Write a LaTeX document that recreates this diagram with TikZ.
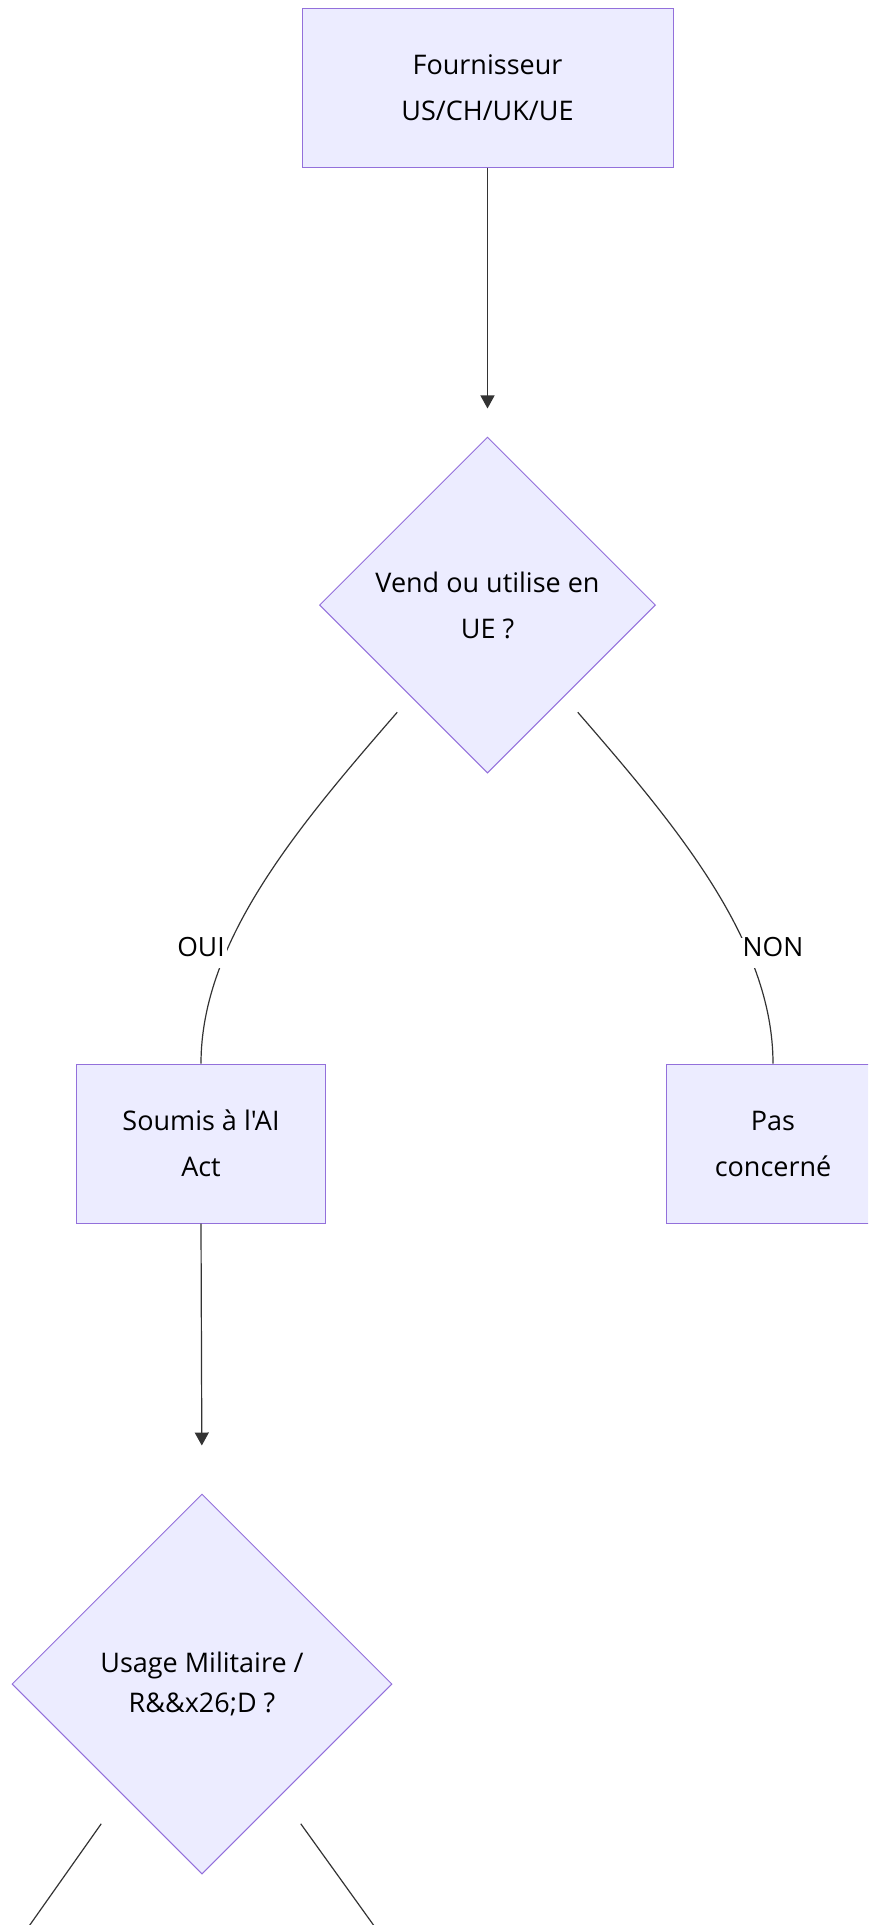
\documentclass[tikz,border=0pt]{standalone}
\usepackage{fontspec}
\setmainfont{Open Sans}[Ligatures=TeXOff]
\usepackage{tikz}
\usetikzlibrary{shapes.geometric}
\usetikzlibrary{positioning}
\usetikzlibrary{arrows.meta}
\definecolor{nodefill}{HTML}{ECECFF}
\definecolor{nodeline}{HTML}{9370DB}
\definecolor{edgeline}{HTML}{333333}

\begin{document}
\begin{tikzpicture}[x=1pt,y=-1pt,>={Triangle[length=13pt,width=14pt]},
	box node/.style={rectangle,draw=nodeline,fill=nodefill,line width=1pt,
		minimum height=159pt,inner sep=0pt,align=center,text=black,
		font=\fontsize{27}{46}\selectfont},
	choice node/.style={diamond,draw=nodeline,fill=nodefill,line width=1pt,
		inner sep=0pt,align=center,text=black,font=\fontsize{27}{46}\selectfont},
	label node/.style={fill=white,inner xsep=2pt,inner ysep=0pt,text height=18pt,
		text depth=12pt,text=black,font=\fontsize{26.5}{30}\selectfont},
	flow/.style={draw=edgeline,line width=1.2pt}]
	
	\useasboundingbox (0,0) rectangle (868,1925);
	\clip (0,0) rectangle (868,1925);
	
	\node[box node,minimum width=371pt] (four) at (487.5,87.5) {Fournisseur\\US/CH/UK/UE};
	\node[choice node,minimum width=336pt,minimum height=336pt] (vend) [below=269pt of four] {Vend ou utilise en\\UE ?};
	\node[box node,minimum width=249pt] (soumis) [below=290pt of vend.south,xshift=-286.5pt] {Soumis à l'AI\\Act};
	\node[box node,minimum width=213pt] (pas) [below=290pt of vend.south,xshift=285.5pt] {Pas\\concerné};
	\node[choice node,minimum width=380pt,minimum height=380pt,font=\fontsize{27}{40}\selectfont] (milit) [below=270pt of soumis,xshift=1pt] {Usage Militaire /\\R\&\&x26;D ?};
	
	\coordinate (leftexit) at (-9,1980);
	\coordinate (rightexit) at (413,1980);
	
	\draw[flow,->,shorten >=28pt] (four) -- (vend);
	\draw[flow,->,shorten >=48pt] (soumis.south) -- (milit.north);
	\draw[flow] ([shift={(-6,23)}]vend.south west) .. controls +(-98,113) and ([shift={(0,-123)}]soumis.north) .. (soumis.north);
	\draw[flow] ([shift={(6,23)}]vend.south east) .. controls +(98,113) and ([shift={(0,-123)}]pas.north) .. (pas.north);
	\draw[flow] ([shift={(-5.5,44.5)}]milit.south west) -- (leftexit);
	\draw[flow] ([shift={(3.5,44.5)}]milit.south east) -- (rightexit);
	
	\node[label node] (oui) [above=95pt of soumis] {OUI};
	\node[label node] (non) [above=95pt of pas] {NON};
\end{tikzpicture}
\end{document}
